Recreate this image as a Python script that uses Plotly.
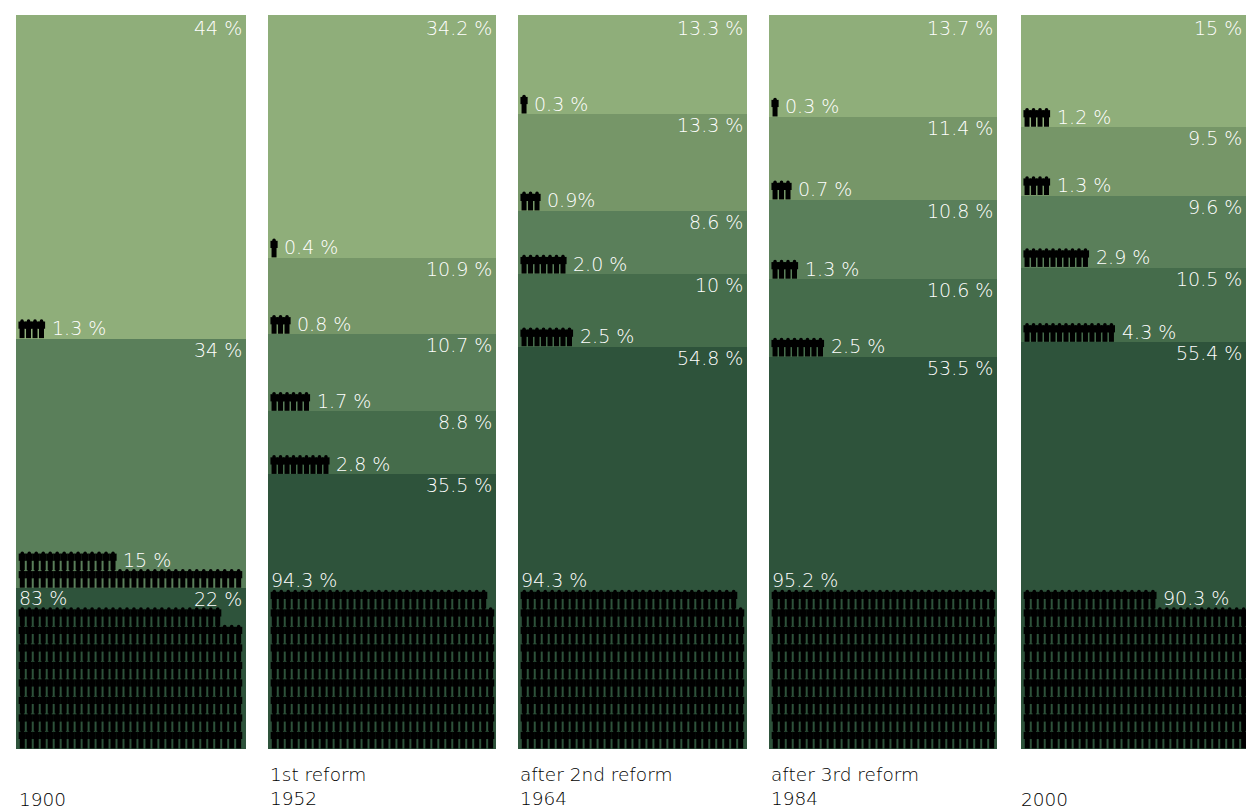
import plotly.graph_objects as go

# Top-to-bottom in every list below
panel_years = ["1900", "1952", "1964", "1984", "2000"]
panel_titles = ["", "1st reform", "after 2nd reform", "after 3rd reform", ""]
share_labels = [
    ["44 %", "34 %", "22 %"],
    ["34.2 %", "10.9 %", "10.7 %", "8.8 %", "35.5 %"],
    ["13.3 %", "13.3 %", "8.6 %", "10 %", "54.8 %"],
    ["13.7 %", "11.4 %", "10.8 %", "10.6 %", "53.5 %"],
    ["15 %", "9.5 %", "9.6 %", "10.5 %", "55.4 %"],
]
# segment heights
share_heights = [
    [44.1, 34.0, 21.9],
    [33.1, 10.4, 10.5, 8.6, 37.4],
    [13.5, 13.2, 8.6, 9.9, 54.8],
    [13.9, 11.3, 10.8, 10.6, 53.4],
    [15.3, 9.3, 9.8, 10.2, 55.4],
]
group_labels = [
    ["1.3 %", "15 %", "83 %"],
    ["0.4 %", "0.8 %", "1.7 %", "2.8 %", "94.3 %"],
    ["0.3 %", "0.9%", "2.0 %", "2.5 %", "94.3 %"],
    ["0.3 %", "0.7 %", "1.3 %", "2.5 %", "95.2 %"],
    ["1.2 %", "1.3 %", "2.9 %", "4.3 %", "90.3 %"],
]
# number of person icons
group_counts = [
    [4, 46, 253],
    [1, 3, 6, 9, 287],
    [1, 3, 7, 8, 287],
    [1, 3, 4, 8, 288],
    [4, 4, 10, 14, 275],
]
colors5 = ["#8fae7a", "#769668", "#5a7f5a", "#456c4b", "#2e533b"]
colors3 = ["#8fae7a", "#5a7f5a", "#2e533b"]

# style / layout constants
W, H = 1246, 810
TOP, BOT = 15, 749
panel_px = [(16, 246), (268, 496), (518, 747), (769, 997), (1021, 1246)]
caption_shift = [2, 1, 1, 1, -1]
PER_ROW = 32
PAD = 0.4
COL_PX = 6.98
SMALL_PITCH = 0.93
ROW_PITCH = 17.5 / (BOT - TOP) * 100
UNIT = 100 / (BOT - TOP)
FAMILY = "DejaVu Sans ExtraLight, DejaVu Sans Light, DejaVu Sans"
LABEL_FONT = dict(family=FAMILY, size=19, color="#ffffff")
TITLE_FONT = dict(family=FAMILY, size=18.5, color="#000000")

fig = go.Figure()
annotations = []

for p, (x0, x1) in enumerate(panel_px):
    s = "" if p == 0 else str(p + 1)
    xr = [-PAD, -PAD + (x1 - x0) / COL_PX]
    fig.update_layout({
        f"xaxis{s}": dict(domain=[x0 / W, x1 / W], range=xr, visible=False, anchor=f"y{s}", fixedrange=True),
        f"yaxis{s}": dict(domain=[1 - BOT / H, 1 - TOP / H], range=[0, 100], visible=False, anchor=f"x{s}", fixedrange=True),
    })
    heights = share_heights[p]
    cols = colors3 if len(heights) == 3 else colors5
    xa, ya = f"x{s}", f"y{s}"
    # stacked segments, bottom first
    for h, c in zip(reversed(heights), reversed(cols)):
        fig.add_trace(go.Bar(x=[50], y=[h], width=[200], marker=dict(color=c, line_width=0),
                             xaxis=xa, yaxis=ya, showlegend=False, hoverinfo="skip"))
    tops = []
    t = 100.0
    for h in heights:
        tops.append(t)
        t -= h
    lx, ly, bx, by, hx, hy = [], [], [], [], [], []
    for i, (h, n) in enumerate(zip(heights, group_counts[p])):
        base = tops[i] - h + 0.35
        rows = (n + PER_ROW - 1) // PER_ROW
        first = n - (rows - 1) * PER_ROW
        pitch = SMALL_PITCH if rows == 1 else 1.0
        for r in range(rows):
            cnt = first if r == 0 else PER_ROW
            rb = base + (rows - 1 - r) * ROW_PITCH
            for c in range(cnt):
                xc = (c + 0.5) * pitch
                lx.append(xc); ly.append(rb + 4.3 * UNIT)
                bx.append(xc); by.append(rb + 11.0 * UNIT)
                hx.append(xc); hy.append(rb + 15.0 * UNIT)
        # right label at top of the segment
        annotations.append(dict(x=1, xref=f"{xa} domain", y=tops[i], yref=ya, text=share_labels[p][i],
                                xanchor="right", yanchor="top", showarrow=False, font=LABEL_FONT,
                                xshift=-3, yshift=-1 if i == 0 else 1, borderpad=0))
        # group label
        top_row_y = base + (rows - 1) * ROW_PITCH
        if first >= PER_ROW - 1 or (i == len(heights) - 1 and p == 0):
            annotations.append(dict(x=-PAD, xref=xa, y=top_row_y + 17 * UNIT,
                                    yref=ya, text=group_labels[p][i], xanchor="left", yanchor="bottom",
                                    showarrow=False, font=LABEL_FONT, xshift=2, yshift=-3, borderpad=0))
        else:
            annotations.append(dict(x=first * pitch + 0.85, xref=xa, y=top_row_y + 8 * UNIT, yref=ya,
                                    text=group_labels[p][i], xanchor="left", yanchor="middle",
                                    showarrow=False, font=LABEL_FONT, borderpad=0))
    fig.add_trace(go.Scatter(x=lx, y=ly, mode="markers", xaxis=xa, yaxis=ya, showlegend=False, hoverinfo="skip",
                             marker=dict(symbol="line-ns", size=9, color="black", line=dict(width=5, color="black"))))
    fig.add_trace(go.Scatter(x=bx, y=by, mode="markers", xaxis=xa, yaxis=ya, showlegend=False, hoverinfo="skip",
                             marker=dict(symbol="square", size=7.2, color="black", line_width=0)))
    fig.add_trace(go.Scatter(x=hx, y=hy, mode="markers", xaxis=xa, yaxis=ya, showlegend=False, hoverinfo="skip",
                             marker=dict(symbol="circle", size=3.6, color="black", line_width=0)))
    # panel caption
    title = (panel_titles[p] + "<br>" if panel_titles[p] else "") + panel_years[p]
    annotations.append(dict(x=0, xref=f"{xa} domain", y=0, yref=f"{ya} domain", text=title, align="left",
                            xanchor="left", yanchor="top", showarrow=False, font=TITLE_FONT,
                            xshift=caption_shift[p], yshift=-(39 if not panel_titles[p] else 14), borderpad=0))

fig.update_layout(width=W, height=H, margin=dict(l=0, r=0, t=0, b=0), barmode="stack", bargap=0,
                  paper_bgcolor="white", plot_bgcolor="white", annotations=annotations, showlegend=False)
fig.write_html("out.html", config={"displayModeBar": False},
               post_script="document.body.style.margin='0';document.body.style.overflow='hidden';")
